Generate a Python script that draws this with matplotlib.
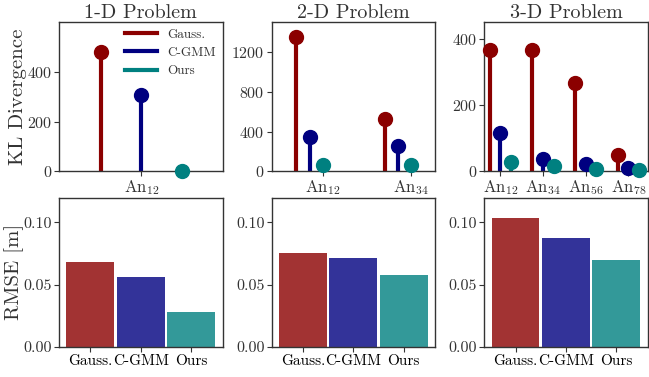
import matplotlib
matplotlib.use("Agg")
import matplotlib.pyplot as plt
import numpy as np

plt.rcParams['font.family'] = 'serif'
plt.rcParams['font.serif'] = ['cmr10']
plt.rcParams['mathtext.fontset'] = 'cm'
plt.rcParams['axes.formatter.use_mathtext'] = True
plt.rcParams['axes.unicode_minus'] = False

methods = ['Gauss.', 'C-GMM', 'Ours']
colors = ['darkred', 'navy', 'teal']
titles = ['1-D Problem', '2-D Problem', '3-D Problem']

# KL divergence per pair (Gauss., C-GMM, Ours)
kl_1d_labels = [r'An$_{12}$']
kl_1d = [[481], [309], [4]]
kl_2d_labels = [r'An$_{12}$', r'An$_{34}$']
kl_2d = [[1349, 528], [346, 252], [67, 70]]
kl_3d_labels = [r'An$_{12}$', r'An$_{34}$', r'An$_{56}$', r'An$_{78}$']
kl_3d = [[365, 367, 265, 50], [115, 38, 22, 10], [28, 17, 7, 6]]

# RMSE per problem (Gauss., C-GMM, Ours)
rmse_1d = [0.068, 0.056, 0.028]
rmse_2d = [0.0754, 0.0714, 0.0578]
rmse_3d = [0.1034, 0.0874, 0.0698]

kl_data = [kl_1d, kl_2d, kl_3d]
kl_labels = [kl_1d_labels, kl_2d_labels, kl_3d_labels]
rmse_data = [rmse_1d, rmse_2d, rmse_3d]

# layout settings for each stem panel
offsets = [0.3, 0.15, 0.25]
tick_shift = [0.0, 0.15, 0.0]
xlims = [(-0.61, 0.60), (-0.43, 1.42), (-0.38, 3.45)]
ylims = [(0, 600), (0, 1500), (0, 450)]
yticks = [[0, 200, 400], [0, 400, 800, 1200], [0, 200, 400]]

fig, axes = plt.subplots(2, 3, figsize=(6.49, 3.77), dpi=100)
plt.subplots_adjust(left=0.091, right=0.998, top=0.9416, bottom=0.0796,
                    wspace=0.3, hspace=0.174)

text_col = '0.2'
for ax in axes.flat:
    for s in ax.spines.values():
        s.set_color('0.2')
        s.set_linewidth(1.0)
    ax.tick_params(direction='out', length=3.5, width=0.8, colors='0.2',
                   labelcolor=text_col, labelsize=11.5, pad=1.5)

for i in range(3):
    ax = axes[0, i]
    data = kl_data[i]
    x = np.arange(len(kl_labels[i]))
    for j in range(3):
        xs = x + (j - 1) * offsets[i]
        ax.vlines(xs, 0, data[j], color=colors[j], lw=3, zorder=2)
        ax.plot(xs, data[j], 'o', color=colors[j], ms=10, zorder=3,
                clip_on=False)
        ax.plot([], [], color=colors[j], lw=3, label=methods[j])
    ax.set_xlim(*xlims[i])
    ax.set_ylim(*ylims[i])
    ax.set_yticks(yticks[i])
    ax.set_xticks(x + tick_shift[i])
    ax.set_xticklabels(kl_labels[i], fontsize=12)
    ax.set_title(titles[i], fontsize=14.5, color=text_col, pad=2)

axes[0, 0].set_ylabel('KL Divergence', fontsize=15, color=text_col, labelpad=0)
axes[0, 0].legend(loc='upper right', frameon=False, fontsize=9.5,
                  handlelength=2.4, borderaxespad=0.1, labelspacing=0.45,
                  labelcolor=text_col)

for i in range(3):
    ax = axes[1, i]
    ax.bar(np.arange(3), rmse_data[i], width=0.95, color=colors, alpha=0.8)
    ax.set_ylim(0, 0.12)
    ax.set_yticks([0, 0.05, 0.10])
    ax.set_yticklabels(['0.00', '0.05', '0.10'])
    ax.set_xticks(np.arange(3))
    ax.set_xticklabels(methods, fontsize=11, color='black')

axes[1, 0].set_ylabel('RMSE [m]', fontsize=15, color=text_col, labelpad=0)

fig.savefig('out.png', dpi=100)
